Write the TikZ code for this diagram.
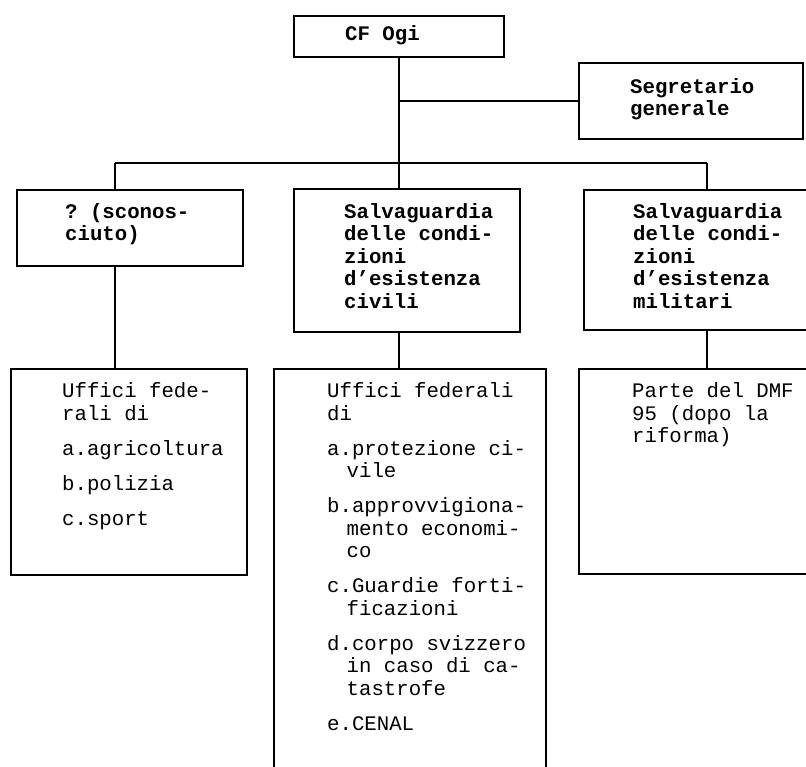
\documentclass[tikz,border=0pt]{standalone}
\usepackage{fontspec}
\setmonofont{Liberation Mono}
\begin{document}
\begin{tikzpicture}[x=1pt,y=-1pt,
  box/.style={draw, line width=1.8pt, rectangle, inner sep=0pt, anchor=north west},
  conn/.style={line width=1.7pt},
  hd/.style={anchor=north west, inner sep=0pt, align=left, font=\fontsize{20.7}{22.5}\selectfont\ttfamily\bfseries},
  bd/.style={anchor=north west, inner sep=0pt, align=left, font=\fontsize{20.7}{22.5}\selectfont\ttfamily}]
\useasboundingbox (0,0) rectangle (806,767);
\clip (0,0) rectangle (806,767);

% boxes
\node[box, minimum width=210pt, minimum height=41pt] (cf) at (293,15) {};
\node[box, minimum width=224pt, minimum height=76pt] (seg) at (578,62) {};
\node[box, minimum width=226pt, minimum height=76pt] (u1) at (16,189) {};
\node[box, minimum width=226pt, minimum height=143pt] (u2) at (293,188) {};
\node[box, minimum width=250pt, minimum height=140pt] (u3) at (583,189) {};
\node[box, minimum width=236pt, minimum height=206pt] (l1) at (10,368) {};
\node[box, minimum width=272pt, minimum height=420pt] (l2) at (273,368) {};
\node[box, minimum width=250pt, minimum height=205pt] (l3) at (578,368) {};

% texts
\node[hd] (tcf) at (345,23) {\rule{0pt}{17pt}CF Ogi};
\node[hd] (tseg) at (630,76) {\rule{0pt}{17pt}Segretario\\generale};
\node[hd] (tu1) at (65,201) {\rule{0pt}{17pt}? (sconos-\\ciuto)};
\node[hd] (tu2) at (344,201) {\rule{0pt}{17pt}Salvaguardia\\delle condi-\\zioni\\d’esistenza\\civili};
\node[hd] (tu3) at (633,201) {\rule{0pt}{17pt}Salvaguardia\\delle condi-\\zioni\\d’esistenza\\militari};
\node[bd] (tl1) at (62,380.5) {\rule{0pt}{17pt}Uffici fede-\\rali di\\[12.5pt]a.agricoltura\\[12.5pt]b.polizia\\[12.5pt]c.sport};
\node[bd] (tl2) at (327,380.5) {\rule{0pt}{17pt}Uffici federali\\di\\[12.5pt]a.protezione ci-\\\hspace*{19.5pt}vile\\[12.5pt]b.approvvigiona-\\\hspace*{19.5pt}mento economi-\\\hspace*{19.5pt}co\\[12.5pt]c.Guardie forti-\\\hspace*{19.5pt}ficazioni\\[12.5pt]d.corpo svizzero\\\hspace*{19.5pt}in caso di ca-\\\hspace*{19.5pt}tastrofe\\[12.5pt]e.CENAL};
\node[bd] (tl3) at (632,380.5) {\rule{0pt}{17pt}Parte del DMF\\95 (dopo la\\riforma)};

% connectors
\coordinate (busL) at (115,163);
\coordinate (busR) at (707,163);
\coordinate (busM) at (cf.south |- busL);
\coordinate (sj) at (cf.south |- seg.west);
\draw[conn] (cf.south) -- (busM);
\draw[conn] (sj) -- (seg.west);
\draw[conn] (busL) -- (busR);
\draw[conn] (busL) -- (busL |- u1.north);
\draw[conn] (busM) -- (busM |- u2.north);
\draw[conn] (busR) -- (busR |- u3.north);
\draw[conn] (busL |- u1.south) -- (busL |- l1.north);
\draw[conn] (busM |- u2.south) -- (busM |- l2.north);
\draw[conn] (busR |- u3.south) -- (busR |- l3.north);
\end{tikzpicture}
\end{document}
